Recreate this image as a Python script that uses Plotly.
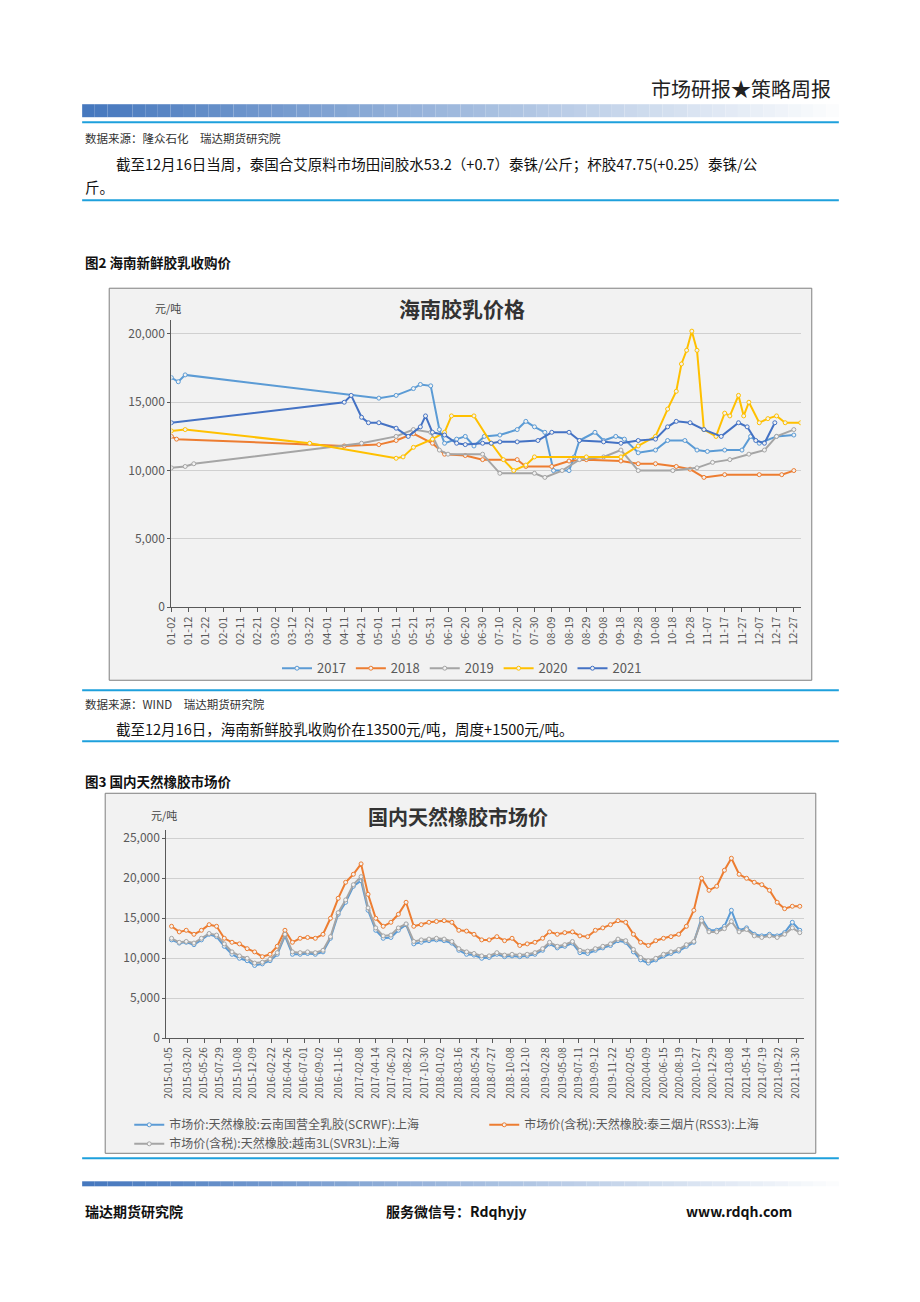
import plotly.graph_objects as go

W, H = 920, 1302
def py(y): return 1 - ((y - 9.8) / 0.993) / H
def px(x): return ((x - 18) / 0.988) / W

# ---------- Chart 1 data (day labels MM-DD, values yuan/ton) ----------
tick_labels_1 = ["01-02","01-12","01-22","02-01","02-11","02-21","03-02","03-12","03-22","04-01","04-11","04-21",
                 "05-01","05-11","05-21","05-31","06-10","06-20","06-30","07-10","07-20","07-30","08-09","08-19",
                 "08-29","09-08","09-18","09-28","10-08","10-18","10-28","11-07","11-17","11-27","12-07","12-17","12-27"]
d2017 = ["01-02","01-06","01-10","05-01","05-11","05-21","05-25","05-31","06-05","06-08","06-15","06-20","06-25","07-01","07-10","07-20","07-25","07-30","08-05","08-10","08-19","08-22","08-25","09-03","09-08","09-15","09-20","09-28","10-08","10-15","10-25","11-01","11-07","11-17","11-27","12-02","12-07","12-17","12-27"]
v2017 = [16800,16500,17000,15300,15500,16000,16300,16200,13000,12000,12300,12500,11800,12500,12600,13000,13600,13200,12800,10000,10000,11000,12200,12800,12200,12500,12300,11300,11500,12200,12200,11500,11400,11500,11500,12500,12000,12500,12600]
d2018 = ["01-02","01-05","04-11","05-01","05-11","05-21","06-01","06-08","06-20","06-30","07-20","07-25","08-09","08-19","08-29","09-18","09-28","10-08","10-20","10-28","11-05","11-17","12-07","12-20","12-27"]
v2018 = [12500,12300,11800,11900,12200,12700,12000,11200,11100,10800,10800,10300,10300,10700,10800,10700,10500,10500,10300,10100,9500,9700,9700,9700,10000]
d2019 = ["01-02","01-10","01-15","04-21","05-11","05-21","05-31","06-05","06-10","06-30","07-10","07-30","08-05","08-15","08-25","09-08","09-18","09-28","10-18","11-01","11-10","11-20","12-01","12-10","12-17","12-27"]
v2019 = [10200,10300,10500,12000,12500,13000,12800,11500,11200,11200,9800,9800,9500,10000,10800,11000,11500,10000,10000,10200,10600,10800,11200,11500,12500,13000]
d2020 = ["01-02","01-10","03-22","05-11","05-15","05-21","06-01","06-08","06-12","06-25","07-05","07-12","07-18","07-25","07-30","08-29","09-18","09-28","10-08","10-15","10-20","10-23","10-26","10-29","11-01","11-05","11-12","11-17","11-20","11-25","11-28","12-01","12-07","12-12","12-17","12-22","12-31"]
v2020 = [12900,13000,12000,10900,11000,11700,12300,12800,14000,14000,12000,10800,10000,10400,11000,11000,11000,11800,12500,14500,15800,17800,18800,20200,18800,13000,12500,14200,14000,15500,14000,15000,13500,13800,14000,13500,13500]
d2021 = ["01-02","04-11","04-15","04-21","04-25","05-01","05-11","05-18","05-25","05-28","06-01","06-08","06-15","06-20","06-30","07-05","07-10","07-20","08-01","08-09","08-19","08-25","09-08","09-18","09-28","10-08","10-15","10-20","10-28","11-05","11-15","11-25","11-30","12-05","12-10","12-16"]
v2021 = [13500,15000,15500,13900,13500,13500,13100,12500,13200,14000,12800,12600,12000,11900,12000,12000,12100,12100,12200,12800,12800,12200,12100,12000,12200,12300,13200,13600,13500,13000,12500,13500,13200,12200,12000,13500]

# ---------- Chart 2 data (monthly readings) ----------
months_2 = [f"{y}-{m:02d}-15" for y in range(2015, 2022) for m in range(1, 13)]
rss3 = [14000,13300,13500,13000,13500,14200,14000,12500,12000,11800,11200,10800,
        10200,10500,11500,13500,12000,12500,12600,12500,13000,15000,17500,19500,
        20500,21800,18000,15000,14000,14500,15500,17000,14000,14200,14500,14600,
        14700,14500,13500,13400,13000,12300,12300,12700,12200,12500,11600,11800,
        12000,12500,13300,13000,13200,13300,12800,12700,13500,13800,14200,14700,
        14500,13000,12000,11600,12200,12500,12700,13000,14000,16000,20000,18500,
        19000,21000,22500,20500,20000,19500,19200,18500,17000,16200,16500,16500]
scrwf = [12300,11900,12000,11700,12300,13000,12700,11500,10500,10000,9700,9100,
         9300,9700,10500,12800,10500,10500,10600,10500,10800,12500,15500,17000,
         19000,19700,16000,13500,12500,12600,13500,14200,11800,12000,12200,12300,
         12200,11900,11000,10500,10400,10000,10100,10500,10200,10300,10200,10300,
         10500,11000,11800,11300,11500,11900,10700,10600,11000,11300,11600,12200,
         12000,10800,9800,9400,9800,10300,10600,10900,11500,12000,15000,13500,
         13500,14000,16000,13500,13800,13000,12800,13000,12800,13200,14500,13500]
svr3l = [12500,12000,12100,11900,12500,13100,12900,11800,10800,10300,10000,9400,
         9500,9900,10700,13000,10800,10700,10800,10700,11000,12700,15700,17300,
         19200,20200,16300,13800,12800,12900,13800,14300,12100,12300,12400,12500,
         12400,12100,11200,10800,10600,10300,10300,10700,10400,10500,10400,10500,
         10700,11200,12000,11500,11700,12100,11000,10900,11200,11500,11800,12400,
         12200,11100,10100,9700,10000,10500,10800,11100,11700,12100,14700,13300,
         13300,13700,14600,13300,13600,12800,12600,12800,12600,13000,13800,13200]
tick_labels_2 = ["2015-01-05","2015-03-20","2015-05-26","2015-07-29","2015-10-08","2015-12-09","2016-02-22","2016-04-26",
                 "2016-07-01","2016-09-02","2016-11-16","2017-02-08","2017-04-14","2017-06-20","2017-08-22","2017-10-30",
                 "2018-01-02","2018-03-16","2018-05-24","2018-07-27","2018-10-08","2018-12-10","2019-02-28","2019-05-08",
                 "2019-07-11","2019-09-12","2019-11-22","2020-02-05","2020-04-09","2020-06-15","2020-08-19","2020-10-27",
                 "2020-12-29","2021-03-08","2021-05-14","2021-07-19","2021-09-22","2021-11-30"]

FONT = "Noto Sans CJK SC"
fig = go.Figure()

def d1(s): return "2020-" + s
colors1 = {"2017": "#5b9bd5", "2018": "#ed7d31", "2019": "#a5a5a5", "2020": "#ffc000", "2021": "#4472c4"}
for name, dd, vv in [("2017", d2017, v2017), ("2018", d2018, v2018), ("2019", d2019, v2019), ("2020", d2020, v2020), ("2021", d2021, v2021)]:
    fig.add_trace(go.Scatter(x=[d1(s) for s in dd], y=vv, name=name, mode="lines+markers",
                             line=dict(color=colors1[name], width=2),
                             marker=dict(size=4, color="#f2f2f2", line=dict(color=colors1[name], width=1)),
                             xaxis="x", yaxis="y", legend="legend"))

names2 = ["市场价:天然橡胶:云南国营全乳胶(SCRWF):上海", "市场价(含税):天然橡胶:泰三烟片(RSS3):上海", "市场价(含税):天然橡胶:越南3L(SVR3L):上海"]
for name, vv, c in [(names2[0], scrwf, "#5b9bd5"), (names2[1], rss3, "#ed7d31"), (names2[2], svr3l, "#a5a5a5")]:
    fig.add_trace(go.Scatter(x=months_2, y=vv, name=name, mode="lines+markers",
                             line=dict(color=c, width=2),
                             marker=dict(size=4, color="#f2f2f2", line=dict(color=c, width=1)),
                             xaxis="x2", yaxis="y2", legend="legend2"))

fig.update_layout(
    width=W, height=H, margin=dict(l=0, r=0, t=0, b=0), paper_bgcolor="white", plot_bgcolor="#f2f2f2",
    font=dict(family=FONT),
    xaxis=dict(domain=[px(172), px(800)], anchor="y", type="date",
               range=["2020-01-02", "2020-12-31"],
               tickvals=[d1(s) for s in tick_labels_1], ticktext=tick_labels_1, tickangle=-90,
               tickfont=dict(size=11, color="#595959"), showline=True, linecolor="#595959", ticks="outside", ticklen=4,
               tickcolor="#595959", showgrid=False),
    yaxis=dict(domain=[py(607), py(320)], anchor="x", range=[0, 21000], tickvals=[0, 5000, 10000, 15000, 20000],
               tickformat=",", tickfont=dict(size=12, color="#595959"), showline=True, linecolor="#595959",
               gridcolor="#d0d0d0", zeroline=False, ticks="outside", ticklen=3, tickcolor="#595959"),
    xaxis2=dict(domain=[px(167), px(803)], anchor="y2", type="date",
                range=["2014-12-25", "2021-12-31"],
                tickvals=tick_labels_2, ticktext=tick_labels_2, tickangle=-90,
                tickfont=dict(size=10, color="#595959"), showline=True, linecolor="#595959", ticks="outside",
                ticklen=4, tickcolor="#595959", showgrid=False),
    yaxis2=dict(domain=[py(1038), py(830)], anchor="x2", range=[0, 26000],
                tickvals=[0, 5000, 10000, 15000, 20000, 25000], tickformat=",",
                tickfont=dict(size=12, color="#595959"), showline=True, linecolor="#595959",
                gridcolor="#d0d0d0", zeroline=False, ticks="outside", ticklen=3, tickcolor="#595959"),
    legend=dict(orientation="h", x=px(462), xanchor="center", y=py(668), yanchor="middle", bgcolor="rgba(0,0,0,0)",
                font=dict(size=13, color="#595959")),
    legend2=dict(orientation="h", x=px(130), xanchor="left", y=py(1110), yanchor="top", bgcolor="rgba(0,0,0,0)",
                 font=dict(size=12, color="#595959"), entrywidth=310, tracegroupgap=0),
)

shapes = []
n = 60
for i in range(n):
    x0 = 83 + (838 - 83) * i / n
    x1 = 83 + (838 - 83) * (i + 1) / n
    a = 1 - i / n
    r = int(70 + (255 - 70) * (1 - a)); g = int(120 + (255 - 120) * (1 - a)); b = int(190 + (255 - 190) * (1 - a))
    shapes.append(dict(type="rect", xref="paper", yref="paper", x0=px(x0), x1=px(x1), y0=py(117), y1=py(104),
                       fillcolor=f"rgb({r},{g},{b})", line=dict(width=0), layer="below"))
    shapes.append(dict(type="rect", xref="paper", yref="paper", x0=px(x0), x1=px(x1), y0=py(1186), y1=py(1181),
                       fillcolor=f"rgb({r},{g},{b})", line=dict(width=0), layer="below"))
for yline in [122, 200, 690, 741, 1158]:
    shapes.append(dict(type="line", xref="paper", yref="paper", x0=px(83), x1=px(838), y0=py(yline), y1=py(yline),
                       line=dict(color="#1ea0dc", width=2)))
shapes.append(dict(type="rect", xref="paper", yref="paper", x0=px(110), x1=px(811), y0=py(680), y1=py(288),
                   fillcolor="#f2f2f2", line=dict(color="#7f7f7f", width=1), layer="below"))
shapes.append(dict(type="rect", xref="paper", yref="paper", x0=px(106), x1=px(815), y0=py(1153), y1=py(793),
                   fillcolor="#f2f2f2", line=dict(color="#7f7f7f", width=1), layer="below"))
fig.update_layout(shapes=shapes)

def ann(x, y, text, size=12, color="#000", xanchor="left", bold=False):
    fig.add_annotation(xref="paper", yref="paper", x=px(x), y=py(y), text=f"<b>{text}</b>" if bold else text,
                       showarrow=False, xanchor=xanchor, yanchor="middle", font=dict(size=size, color=color, family=FONT))

ann(832, 88, "市场研报★策略周报", 20, "#222", "right")
ann(84, 138, "数据来源：隆众石化　瑞达期货研究院", 11.5, "#333")
ann(115, 163, "截至12月16日当周，泰国合艾原料市场田间胶水53.2（+0.7）泰铢/公斤；杯胶47.75(+0.25）泰铢/公", 14.5, "#111")
ann(84, 186, "斤。", 14.5, "#111")
ann(84, 262, "图2 海南新鲜胶乳收购价", 13.5, "#111", bold=True)
ann(462, 308, "海南胶乳价格", 21, "#333", "center", bold=True)
ann(154, 308, "元/吨", 11, "#444")
ann(84, 704, "数据来源：WIND　瑞达期货研究院", 11.5, "#333")
ann(115, 728, "截至12月16日，海南新鲜胶乳收购价在13500元/吨，周度+1500元/吨。", 14.5, "#111")
ann(84, 781, "图3 国内天然橡胶市场价", 13.5, "#111", bold=True)
ann(458, 816, "国内天然橡胶市场价", 20, "#333", "center", bold=True)
ann(150, 815, "元/吨", 11, "#444")
ann(84, 1211, "瑞达期货研究院", 14, "#111", bold=True)
ann(457, 1211, "服务微信号：Rdqhyjy", 14, "#111", "center", bold=True)
ann(793, 1211, "www.rdqh.com", 14, "#111", "right", bold=True)

fig.write_html("out.html")
